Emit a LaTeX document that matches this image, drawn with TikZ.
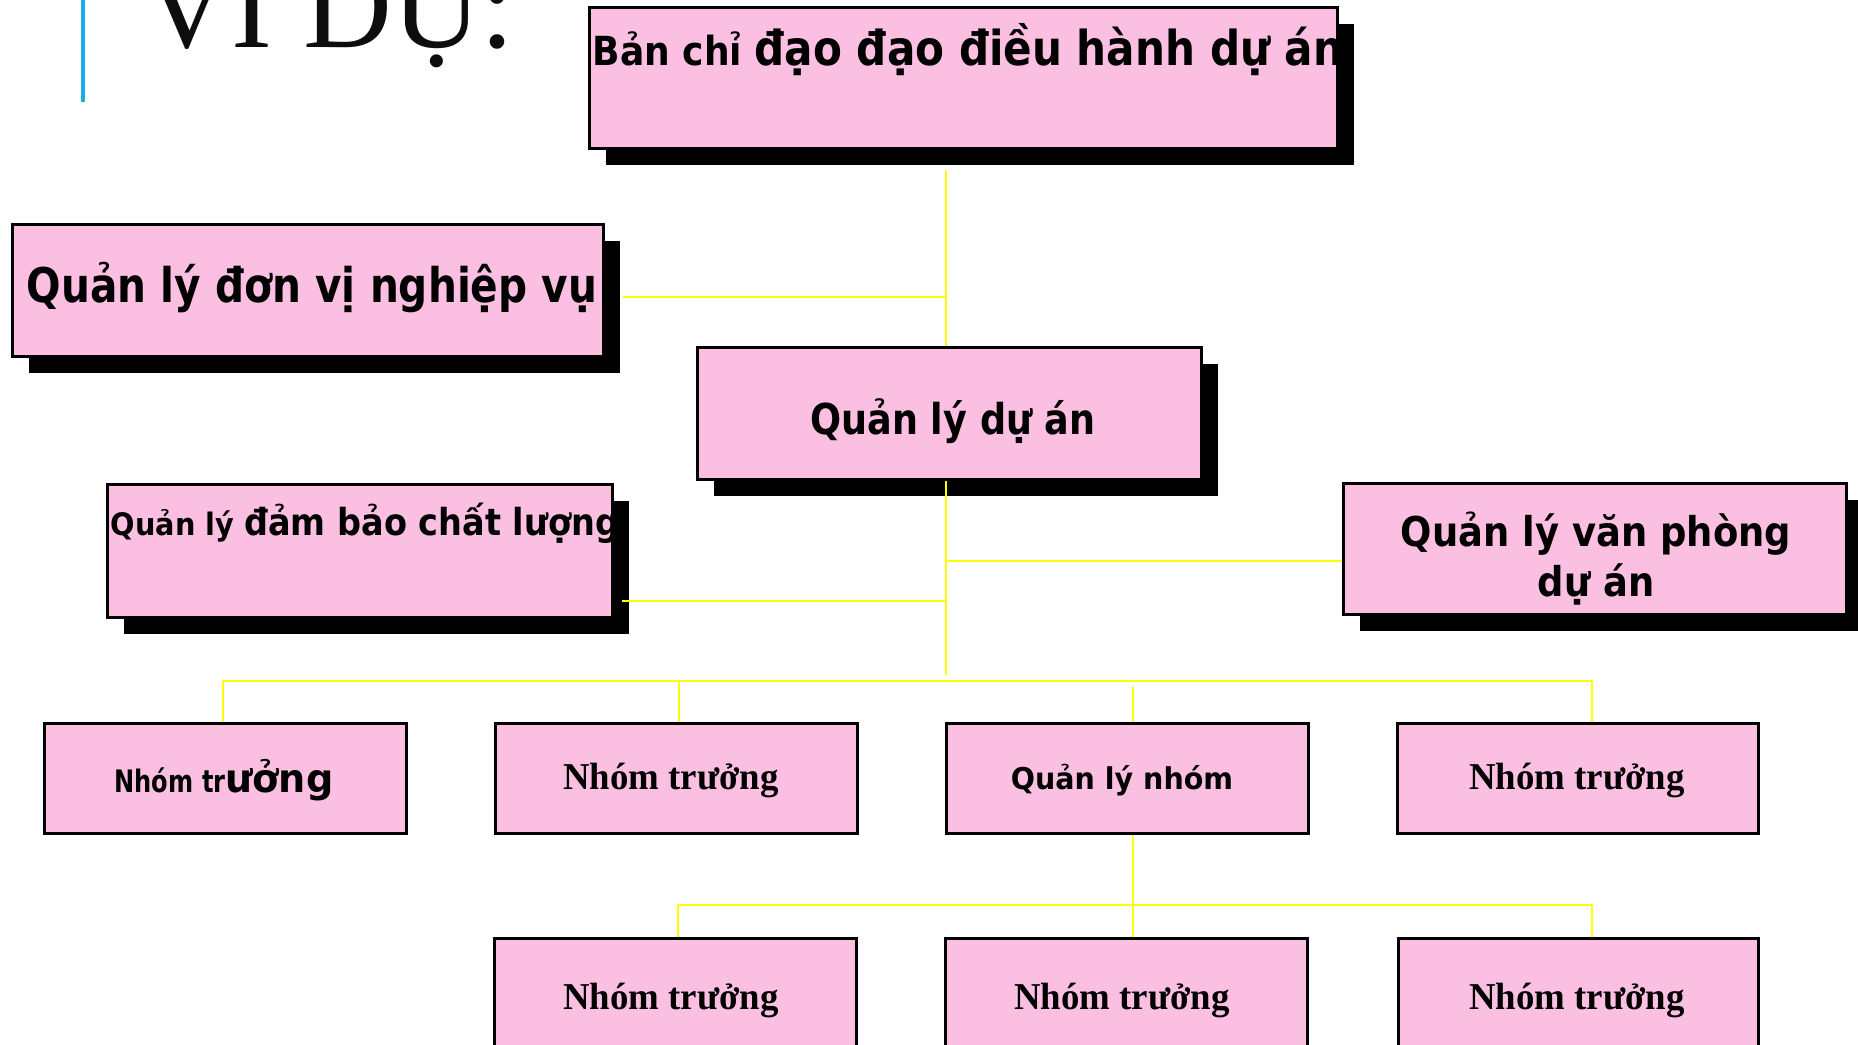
\documentclass[tikz,border=0pt]{standalone}
\usepackage{graphicx}
\usepackage{fontspec}
\usetikzlibrary{shadows,calc}
\setmainfont{Liberation Serif}
\newfontfamily\dvs{DejaVu Sans}
\newfontfamily\lserif{Liberation Serif}
\definecolor{boxpink}{RGB}{251,191,226}
\definecolor{conny}{RGB}{255,255,0}
\definecolor{titleblue}{RGB}{28,173,228}
\definecolor{titlegray}{RGB}{13,13,13}
\newcommand{\hs}[2]{\scalebox{#1}[1]{#2}}
\newcommand{\fs}[1]{\fontsize{#1}{#1}\selectfont}
\begin{document}
\begin{tikzpicture}[x=0.1mm,y=-0.1mm,
  box/.style={draw=black, line width=0.8pt, fill=boxpink, rectangle, inner sep=0pt, anchor=north west},
  sbox/.style={box, drop shadow={opacity=1, fill=black, shadow xshift=1.65mm, shadow yshift=-1.65mm}},
  conn/.style={draw=conny, line width=0.8pt},
  lbl/.style={inner sep=0pt, text=black},
  sanslbl/.style={lbl, font=\dvs\bfseries},
  seriflbl/.style={lbl, font=\lserif\bfseries\fs{10.8}, anchor=base}
]
\useasboundingbox (0,0) rectangle (1858,1044);
\clip (0,0) rectangle (1858,1044);
\fill[white] (0,0) rectangle (1858,1044);

% title
\draw[titleblue, line width=1pt] (83,0) -- (83,102);
\node[lbl, anchor=base west, text=titlegray, font=\lserif\fs{35}] (title) at (142,47) {VÍ DỤ:};

% connector junction coordinates
\coordinate (trunkTop) at (946,170);
\coordinate (trunkBot) at (946,675);
\coordinate (jL) at (946,297);
\coordinate (jR) at (946,561);
\coordinate (jQ) at (946,601);
\coordinate (busL) at (223,681);
\coordinate (busR) at (1592,681);
\coordinate (b2) at (679,681);
\coordinate (b3) at (1133,687);
\coordinate (lowBus) at (1133,905);
\coordinate (lowL) at (678,905);
\coordinate (lowR) at (1592,905);

% boxes
\node[sbox, minimum width=74.8mm, minimum height=14.1mm] (top) at (588,6) {};
\node[sbox, minimum width=59.1mm, minimum height=13.2mm] (left) at (11,223) {};
\node[sbox, minimum width=50.4mm, minimum height=13.2mm] (mid) at (696,346) {};
\node[sbox, minimum width=50.5mm, minimum height=13.3mm] (qa) at (106,483) {};
\node[sbox, minimum width=50.3mm, minimum height=13.1mm] (vp) at (1342,482) {};

\node[box, minimum width=36.2mm, minimum height=11mm] (r1a) at (43,722) {};
\node[box, minimum width=36.2mm, minimum height=11mm] (r1b) at (494,722) {};
\node[box, minimum width=36.2mm, minimum height=11mm] (r1c) at (945,722) {};
\node[box, minimum width=36.1mm, minimum height=11mm] (r1d) at (1396,722) {};

\node[box, minimum width=36.2mm, minimum height=13mm] (r2a) at (493,937) {};
\node[box, minimum width=36.2mm, minimum height=13mm] (r2b) at (944,937) {};
\node[box, minimum width=36.0mm, minimum height=13mm] (r2c) at (1397,937) {};

% connectors
\draw[conn] (trunkTop) -- (trunkTop |- mid.north);
\draw[conn] (trunkTop |- mid.south) -- (trunkBot);
\draw[conn] (jL) -- ($(left.east |- jL)+(18,0)$);
\draw[conn] (jR) -- (vp.west |- jR);
\draw[conn] (jQ) -- ($(qa.east |- jQ)+(8,0)$);
\draw[conn] (busL) -- (busR);
\draw[conn] (busL) -- (busL |- r1a.north);
\draw[conn] (b2) -- (b2 |- r1b.north);
\draw[conn] (b3) -- (b3 |- r1c.north);
\draw[conn] (busR) -- (busR |- r1d.north);
\draw[conn] (b3 |- r1c.south) -- (lowBus);
\draw[conn] (lowL) -- (lowR);
\draw[conn] (lowL) -- (lowL |- r2a.north);
\draw[conn] (lowBus) -- (lowBus |- r2b.north);
\draw[conn] (lowR) -- (lowR |- r2c.north);

% labels
\node[sanslbl, anchor=base west] (topt) at (592,65)
  {\hs{0.9}{\fs{11.4}Bản chỉ }\hs{0.875}{\fs{13.7}đạo đạo điều hành dự án}};
\node[sanslbl, anchor=base, font=\dvs\bfseries\fs{13.6}] (leftt) at (312,302)
  {\hs{0.85}{Quản lý đơn vị nghiệp vụ}};
\node[sanslbl, anchor=base, font=\dvs\bfseries\fs{12.1}] (midt) at (953,434)
  {\hs{0.86}{Quản lý dự án}};
\node[sanslbl, anchor=base west] (qat) at (110,535)
  {\hs{0.93}{\fs{8.8}Quản lý }\hs{0.9}{\fs{10.6}đảm bảo chất lượng}};
\node[sanslbl, anchor=base, font=\dvs\bfseries\fs{11.67}] (vpt1) at (1596,546)
  {\hs{0.9}{Quản lý văn phòng}};
\node[sanslbl, anchor=base, font=\dvs\bfseries\fs{11.67}] (vpt2) at (1596,596)
  {\hs{0.9}{dự án}};

\node[sanslbl, anchor=base] (r1at) at (224,792)
  {\hs{0.78}{\fs{8.8}Nhóm tr}\hs{0.97}{\fs{11.2}ưởng}};
\node[seriflbl] (r1bt) at (671,789) {\hs{0.97}{Nhóm trưởng}};
\node[sanslbl, anchor=base, font=\dvs\bfseries\fs{8.54}] (r1ct) at (1122,789)
  {\hs{0.95}{Quản lý nhóm}};
\node[seriflbl] (r1dt) at (1577,789) {\hs{0.97}{Nhóm trưởng}};

\node[seriflbl] (r2at) at (671,1009) {\hs{0.97}{Nhóm trưởng}};
\node[seriflbl] (r2bt) at (1122,1009) {\hs{0.97}{Nhóm trưởng}};
\node[seriflbl] (r2ct) at (1577,1009) {\hs{0.97}{Nhóm trưởng}};
\end{tikzpicture}
\end{document}
